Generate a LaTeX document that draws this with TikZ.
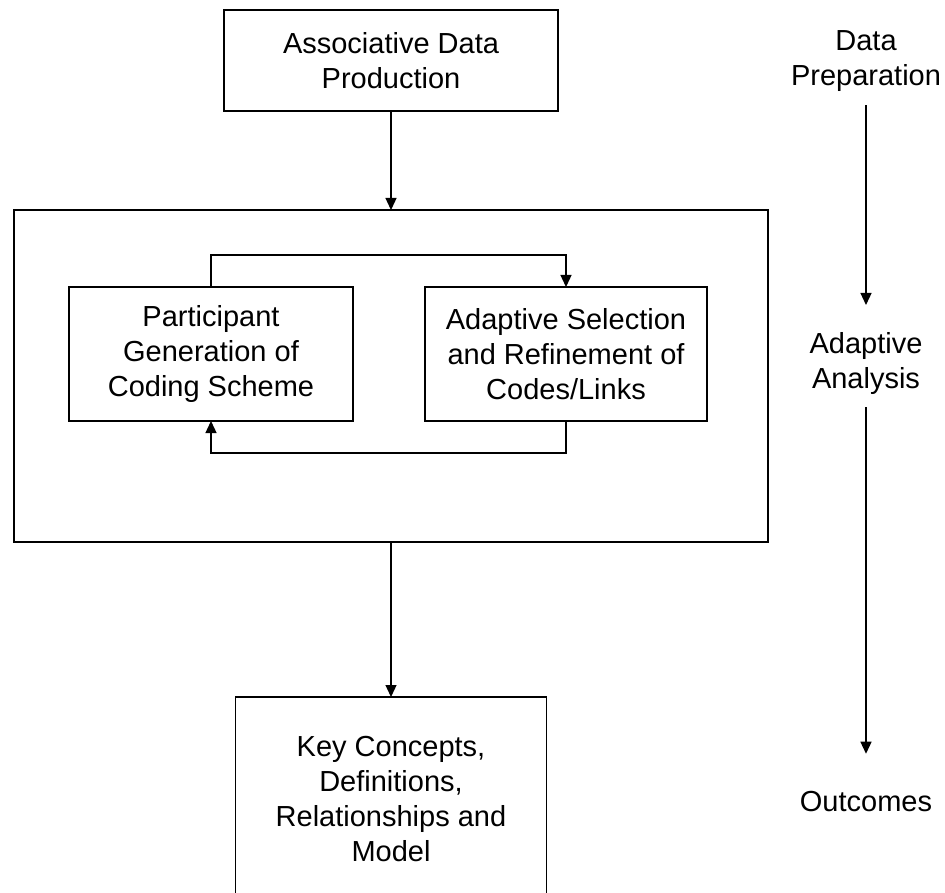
\documentclass[tikz,border=0pt]{standalone}
\usepackage{fontspec}
\setmainfont{Liberation Sans}
\usetikzlibrary{arrows.meta}
\begin{document}
\begin{tikzpicture}[x=1pt,y=-1pt,
    every node/.style={font=\fontsize{29}{35}\selectfont, align=center,
      inner sep=0pt, outer sep=0pt},
    box/.style={draw, line width=1.6pt},
    arr/.style={-{Triangle[length=12pt,width=11pt]}, line width=1.3pt}]
  \clip (0,0) rectangle (945,893);
  \node[box, minimum width=334pt, minimum height=101pt] (Produce) at (391,60.5)
    {Associative Data\\Production};
  \node[box, minimum width=754pt, minimum height=332pt] (Frame) at (391,376) {};
  \node[box, minimum width=284pt, minimum height=134pt] (Part) at (211,354)
    {Participant\\Generation of\\Coding Scheme};
  \node[box, minimum width=282pt, minimum height=134pt] (Select) at (566,354)
    {Adaptive Selection\\and Refinement of\\Codes/Links};
  \node[box, minimum width=311pt, minimum height=204pt] (Key) at (391,799)
    {Key Concepts,\\Definitions,\\Relationships and\\Model};
  \draw[arr] (Produce) -- (Frame);
  \draw[arr] (Part.north) -- ++(0,-32) -| (Select.north);
  \draw[arr] (Select.south) -- ++(0,32) -| (Part.south);
  \draw[arr] (Frame) -- (Key);
  % stages on the right
  \node (Prep) at (866,61) {Data\\Preparation};
  \node (Analysis) at (866,364) {Adaptive\\Analysis};
  \node (Outcomes) at (866,802) {Outcomes};
  \draw[arr, shorten <=14pt, shorten >=28pt] (Prep.south) -- (Analysis.north);
  \draw[arr, shorten <=12pt, shorten >=38pt] (Analysis.south) -- (Outcomes.north);
\end{tikzpicture}
\end{document}
